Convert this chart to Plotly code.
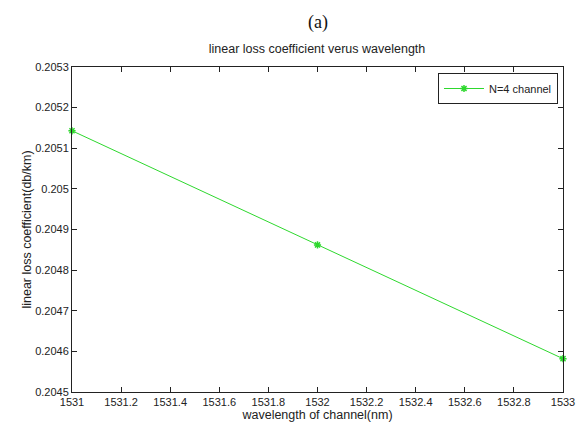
import plotly.graph_objects as go

wavelength = [1531, 1532, 1533]
loss_coeff = [0.205143, 0.204862, 0.204582]
x_ticks = [1531, 1531.2, 1531.4, 1531.6, 1531.8, 1532, 1532.2, 1532.4, 1532.6, 1532.8, 1533]
y_ticks = [0.2045, 0.2046, 0.2047, 0.2048, 0.2049, 0.205, 0.2051, 0.2052, 0.2053]
y_tick_text = ["0.2045", "0.2046", "0.2047", "0.2048", "0.2049", "0.205", "0.2051", "0.2052", "0.2053"]
x_tick_text = ["1531", "1531.2", "1531.4", "1531.6", "1531.8", "1532", "1532.2", "1532.4", "1532.6", "1532.8", "1533"]

green = "#2ed82e"
font_family = "Liberation Sans, Arial, sans-serif"

W, H = 579, 428

fig = go.Figure()
fig.add_trace(go.Scatter(
    x=wavelength, y=loss_coeff, mode="lines+markers", name="N=4 channel",
    line=dict(color=green, width=1),
    marker=dict(symbol="asterisk-open", size=6, color=green, line=dict(color=green, width=1.5)),
    cliponaxis=False,
))

axis_common = dict(
    showline=True, linecolor="#222222", linewidth=1, mirror="allticks",
    ticks="inside", ticklen=5, tickcolor="#222222", showgrid=False, zeroline=False,
    tickfont=dict(family=font_family, size=11, color="#222222"),
    automargin=False,
)

fig.update_layout(
    width=W, height=H,
    margin=dict(l=72, r=16, t=67, b=36, autoexpand=False),
    paper_bgcolor="white", plot_bgcolor="white",
    font=dict(family=font_family, size=11, color="#222222"),
    title=dict(text="linear loss coefficient verus wavelength", x=317 / W, xanchor="center",
               y=1 - 49 / H, yanchor="middle", automargin=False,
               font=dict(family=font_family, size=12.5, color="#222222")),
    xaxis=dict(range=[1531, 1533], tickvals=x_ticks, ticktext=x_tick_text,
               title=dict(text="wavelength of channel(nm)", standoff=0,
                          font=dict(family=font_family, size=12.5, color="#222222")),
               **axis_common),
    yaxis=dict(range=[0.2045, 0.2053], tickvals=y_ticks, ticktext=y_tick_text,
               title=dict(text="linear loss coefficient(db/km)", standoff=0,
                          font=dict(family=font_family, size=12.5, color="#222222")),
               **axis_common),
    showlegend=True,
    legend=dict(x=0.9898, xanchor="right", y=0.9815, yanchor="top",
                bordercolor="#222222", borderwidth=1, bgcolor="white",
                font=dict(family=font_family, size=11, color="#222222"),
                itemwidth=40, tracegroupgap=0),
    annotations=[dict(text="(a)", xref="paper", yref="paper", x=0.5, y=1 + (67 - 23) / 325,
                      xanchor="center", yanchor="middle", showarrow=False,
                      font=dict(family="Liberation Serif, Times New Roman, serif", size=18, color="#111111"))],
)

fig.write_html(
    "out.html",
    config={"displayModeBar": False},
    post_script="document.body.style.margin='0';document.body.style.overflow='hidden';",
)
